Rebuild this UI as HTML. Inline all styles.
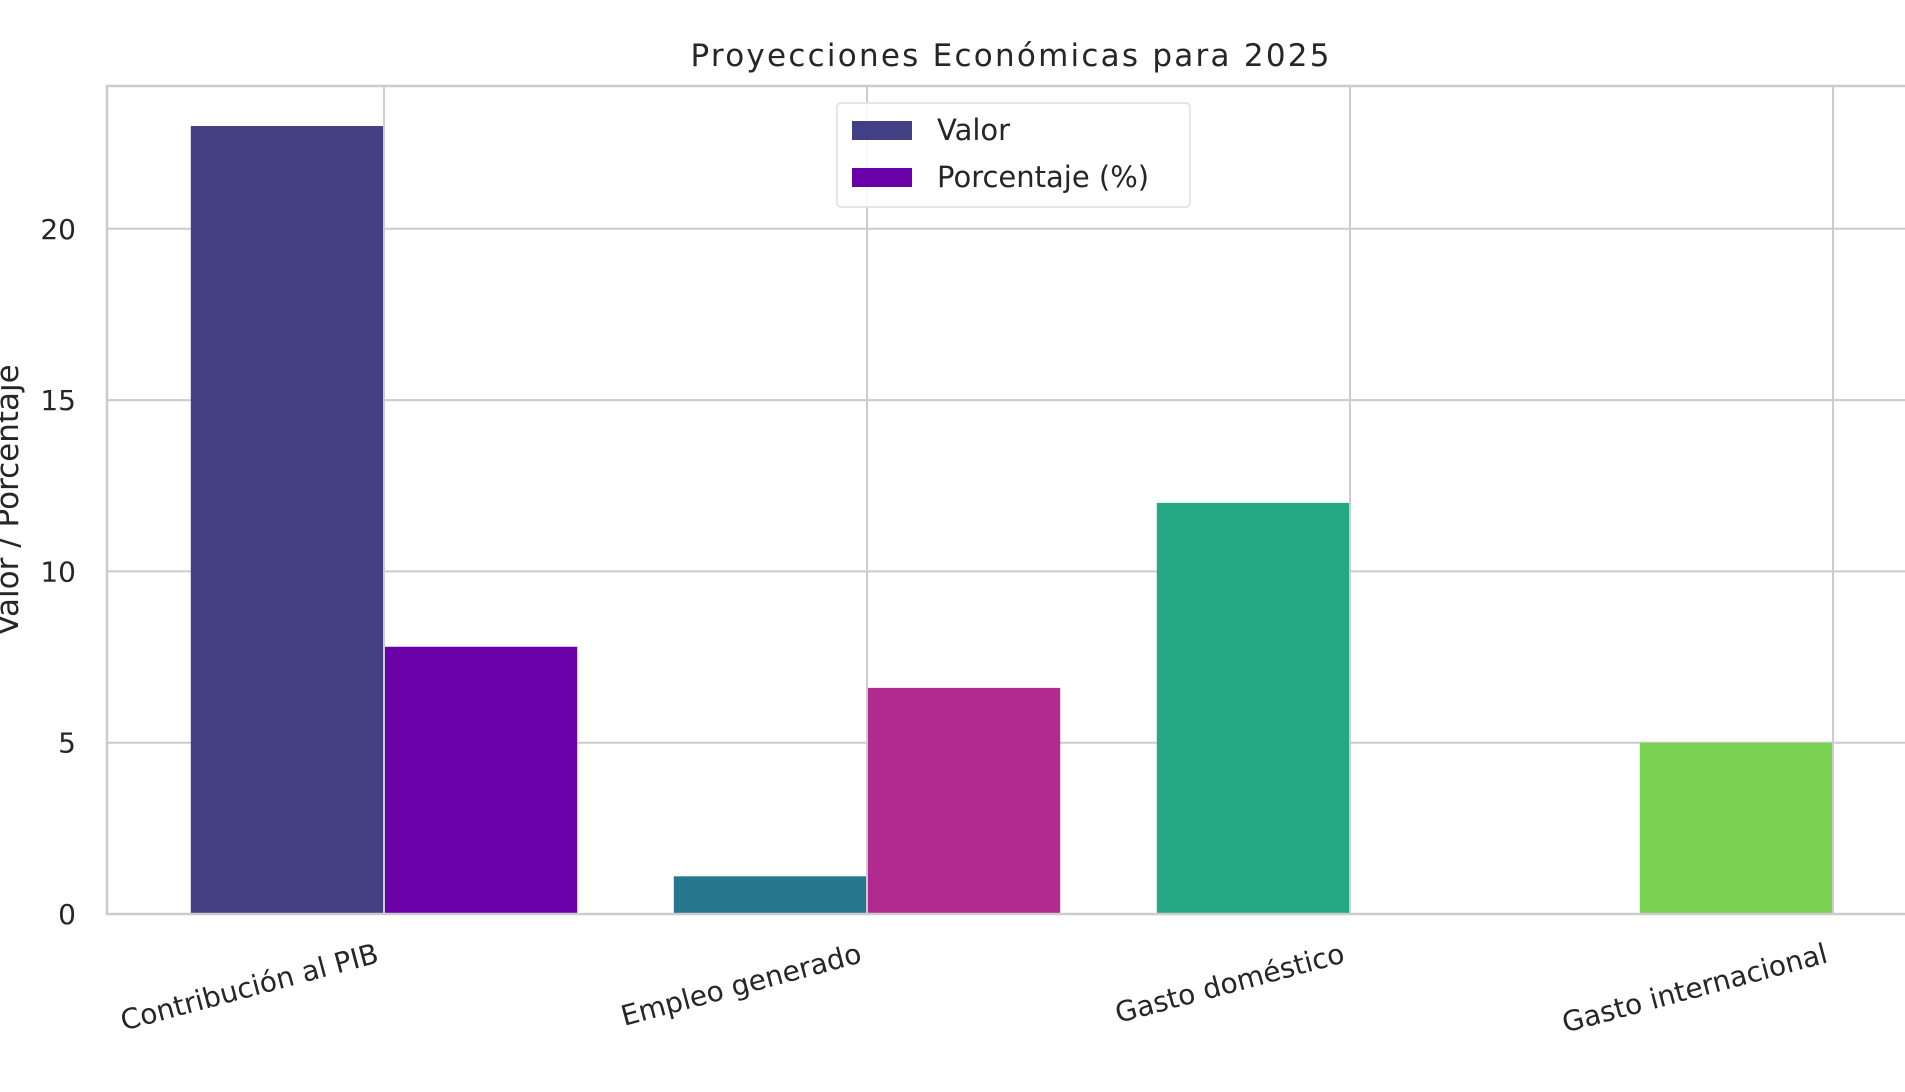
<!DOCTYPE html>
<html><head><meta charset="utf-8"><style>html,body{margin:0;padding:0;background:#fff}svg{display:block}text{font-family:"DejaVu Sans","Liberation Sans",sans-serif;fill:#262626}</style></head>
<body>
<svg id="chart" width="1905" height="1092" viewBox="0 0 1905 1092">
<text x="1010" y="66" text-anchor="middle" font-size="31" textLength="639">Proyecciones Económicas para 2025</text>
<g id="grid"></g>
<g id="bars"></g>
<g id="ticks"></g>
<rect x="107" y="86" width="1820" height="828" fill="none" stroke="#cccccc" stroke-width="2.5"/>
<text transform="translate(18,500) rotate(-90)" text-anchor="middle" font-size="31">Valor / Porcentaje</text>
<g>
<rect x="837" y="103" width="353" height="104" rx="4" fill="#fff" fill-opacity="0.85" stroke="#dddddd" stroke-width="1.5"/>
<rect x="852" y="121" width="60" height="19" fill="#433f85"/>
<text x="937" y="140" font-size="29">Valor</text>
<rect x="852" y="168" width="60" height="19" fill="#6a00a8"/>
<text x="937" y="187" font-size="29">Porcentaje (%)</text>
</g>
</svg>
<script>
const categories = ["Contribución al PIB", "Empleo generado", "Gasto doméstico", "Gasto internacional"];
const valorValues = [23, 1.1, 12, 5];
const porcentajeValues = [7.8, 6.6, 0, 0];
const yTicks = [0, 5, 10, 15, 20];
const valorColors = ["#433f85", "#26778e", "#25a884", "#7ad151"];
const porcColors = ["#6a00a8", "#b12a90", "#e16462", "#fca636"];

const NS = "http://www.w3.org/2000/svg";
const x0 = 384, step = 483;
const xScale = i => x0 + i * step;
const yScale = v => 914 - v * 34.26;
const bw = 0.4 * step;
function mk(tag, attrs, parent) {
  const e = document.createElementNS(NS, tag);
  for (const k in attrs) e.setAttribute(k, attrs[k]);
  parent.appendChild(e);
  return e;
}
const grid = document.getElementById('grid');
const bars = document.getElementById('bars');
const ticks = document.getElementById('ticks');
yTicks.forEach(t => {
  const l = mk('line', {x1: 107, x2: 1905, y1: yScale(t), y2: yScale(t), stroke: '#cccccc', 'stroke-width': 2}, grid);
  
  
  const tx = mk('text', {x: 76, y: yScale(t) + 10, 'text-anchor': 'end', 'font-size': 28}, ticks);
  tx.textContent = t;
  
  
});
categories.forEach((c, i) => {
  const cx = xScale(i);
  const g = mk('line', {x1: cx, x2: cx, y1: 86, y2: 914, stroke: '#cccccc', 'stroke-width': 2}, grid);
  
  
  const b1 = mk('rect', {x: cx - bw, y: yScale(valorValues[i]), width: bw - 1, height: yScale(0) - yScale(valorValues[i]), fill: valorColors[i]}, bars);
  
  
  if (porcentajeValues[i] > 0) {
    const b2 = mk('rect', {x: cx + 1, y: yScale(porcentajeValues[i]), width: bw - 1, height: yScale(0) - yScale(porcentajeValues[i]), fill: porcColors[i]}, bars);
    
    
  }
  const tl = mk('text', {transform: `translate(${cx - 4},${962}) rotate(-15)`, 'text-anchor': 'end', 'font-size': 28}, ticks);
  tl.textContent = c;
  
  
});
</script>
</body></html>
